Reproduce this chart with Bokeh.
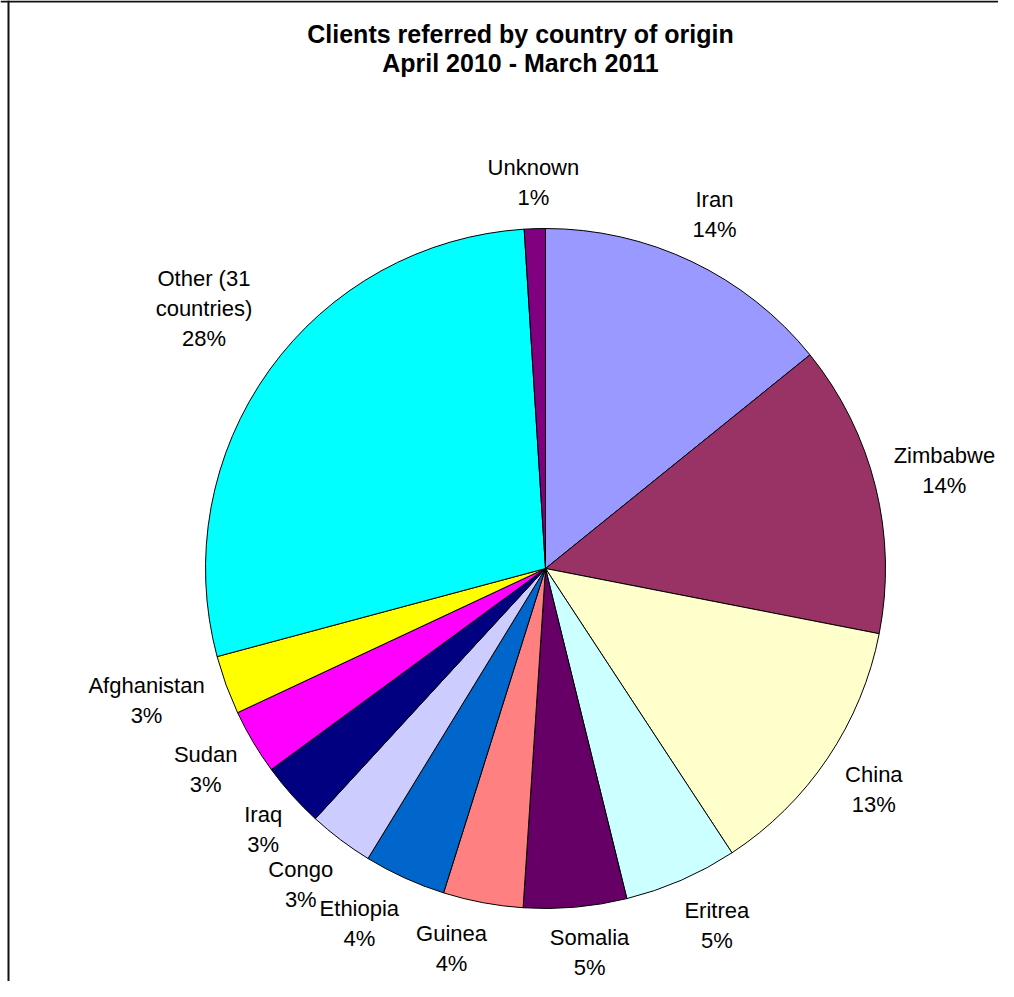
import math
from bokeh.plotting import figure
from bokeh.models import Range1d, Span, ColumnDataSource
from bokeh.core.properties import value
from bokeh.embed import file_html
from bokeh.resources import INLINE

# ---- data (clockwise from 12 o'clock) ----
countries = ["Iran", "Zimbabwe", "China", "Eritrea", "Somalia", "Guinea",
             "Ethiopia", "Congo", "Iraq", "Sudan", "Afghanistan",
             "Other (31\ncountries)", "Unknown"]
shares = [14.2, 13.9, 12.7, 5.4, 4.9, 3.8, 3.9, 3.1, 3.1, 3.1, 2.8, 28.2, 1.0]
colors = ["#9999FF", "#993366", "#FFFFCC", "#CCFFFF", "#660066", "#FF8080",
          "#0066CC", "#CCCCFF", "#000080", "#FF00FF", "#FFFF00", "#00FFFF",
          "#800080"]
title_lines = ["Clients referred by country of origin", "April 2010 - March 2011"]

# ---- layout ----
W, H = 998, 981
YOFF = 10
CX, CY, R = 545, -578, 340
FONT = "Liberation Sans"
LABEL_PX = 22
GAP = 15
LINE_H = 30
# small placement nudges (px) for crowded labels, as the spreadsheet did
nudge = {"Eritrea": (12, 8), "Somalia": (10, 3), "Guinea": (-22, 4),
         "Ethiopia": (-20, 10), "Congo": (-6, 0), "Iraq": (10, 0),
         "Afghanistan": (0, 14), "Zimbabwe": (4, 0),
         "Other (31\ncountries)": (6, 10)}

total = sum(shares)
starts, ends, mids = [], [], []
cum = 0.0
for v in shares:
    c0 = cum / total
    cum += v
    c1 = cum / total
    starts.append(math.pi / 2 - 2 * math.pi * c1)
    ends.append(math.pi / 2 - 2 * math.pi * c0)
    mids.append(math.pi / 2 - math.pi * (c0 + c1))

labels = [f"{n}\n{round(100 * v / total)}%" for n, v in zip(countries, shares)]
lx, ly = [], []
for name, lab, m in zip(countries, labels, mids):
    lines = lab.split("\n")
    a = max(len(s) for s in lines) * 11.5 / 2
    b = len(lines) * LINE_H / 2
    ux, uy = math.cos(m), math.sin(m)
    d = R + GAP + a * abs(ux) + b * abs(uy)
    ndx, ndy = nudge.get(name, (0, 0))
    lx.append(CX + d * ux + ndx)
    ly.append(CY + d * uy + ndy)

src = ColumnDataSource(dict(start=starts, end=ends, color=colors,
                            x=[CX] * len(shares), y=[CY] * len(shares)))
lsrc = ColumnDataSource(dict(x=lx, y=ly, text=labels))

p = figure(width=W, height=H, output_backend="svg", toolbar_location=None,
           x_range=Range1d(0, W), y_range=Range1d(-(H + YOFF), -YOFF),
           x_axis_type=None, y_axis_type=None, min_border=0)
p.grid.visible = False
p.outline_line_color = None
p.background_fill_color = "white"
p.border_fill_color = "white"

p.wedge(x="x", y="y", radius=R, start_angle="start", end_angle="end",
        direction="anticlock", fill_color="color", line_color="black",
        line_width=1, source=src)

p.text(x="x", y="y", text="text", source=lsrc, text_align="center",
       text_baseline="middle", text_font=value(FONT),
       text_font_size=value(f"{LABEL_PX}px"), text_color="black",
       text_line_height=1.2)

p.text(x=[520, 520], y=[-43, -72], text=title_lines, text_align="center",
       text_baseline="middle", text_font=value(FONT),
       text_font_size=value("25px"), text_font_style="bold",
       text_color="black")

# chart area frame (right/bottom edges lie outside the view)
p.add_layout(Span(location=8, dimension="height", line_color="#111111", line_width=2))
p.add_layout(Span(location=-(YOFF + 1), dimension="width", line_color="#111111", line_width=2))

open("out.html", "w").write(file_html(p, INLINE))
